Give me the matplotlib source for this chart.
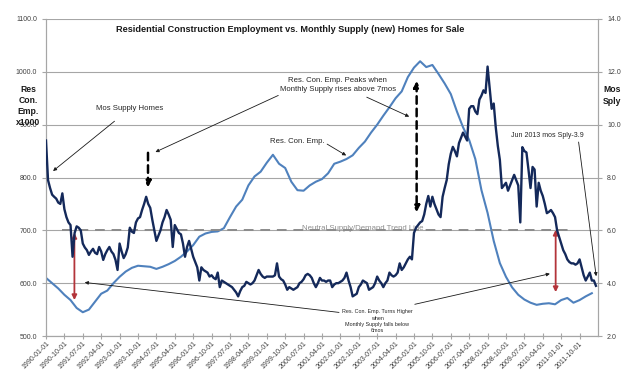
"""
Residential construction employment vs. months of supply (new homes)
"""

import numpy as np
import pandas as pd
import matplotlib
matplotlib.use("Agg")
import matplotlib.pyplot as plt

plt.rcParams["font.family"] = ["Liberation Sans", "DejaVu Sans"]

# monthly months-of-supply, 1990-01 .. 2012-06 (right axis)
supply = [
    9.4, 7.9, 7.6, 7.35, 7.27, 7.2, 7.05, 7.0, 7.4, 6.8, 6.5, 6.3,          # 1990
    6.2, 5.0, 5.9, 6.15, 6.1, 6.0, 5.5, 5.35, 5.25, 5.07, 5.2, 5.3,         # 1991
    5.15, 5.1, 5.37, 5.2, 4.88, 5.1, 5.25, 5.37, 5.2, 5.1, 4.88, 4.5,       # 1992
    5.5, 5.2, 4.95, 5.1, 5.35, 6.1, 5.95, 5.9, 6.3, 6.45, 6.5, 6.77,        # 1993
    7.0, 7.27, 7.0, 6.85, 6.4, 6.0, 5.6, 5.8, 6.0, 6.3, 6.5, 6.77,          # 1994
    6.6, 6.4, 5.37, 6.2, 6.05, 5.9, 5.85, 5.5, 5.0, 5.37, 5.6, 5.3,         # 1995
    5.0, 4.8, 4.6, 4.1, 4.6, 4.5, 4.45, 4.4, 4.25, 4.3, 4.2, 4.15,          # 1996
    4.4, 3.85, 4.1, 4.05, 4.0, 3.95, 3.9, 3.85, 3.75, 3.65, 3.5, 3.7,       # 1997
    3.85, 3.9, 4.05, 4.0, 3.95, 4.0, 4.1, 4.3, 4.5, 4.35, 4.25, 4.2,        # 1998
    4.25, 4.25, 4.25, 4.25, 4.3, 4.75, 4.25, 4.15, 4.1, 3.95, 3.75, 3.85,   # 1999
    3.8, 3.75, 3.8, 3.85, 4.0, 4.05, 4.15, 4.3, 4.35, 4.3, 4.2, 4.0,        # 2000
    3.85, 4.0, 4.2, 4.1, 4.1, 4.05, 4.1, 4.1, 3.85, 3.95, 4.0, 4.0,         # 2001
    4.05, 4.1, 4.2, 4.4, 4.1, 3.85, 3.5, 3.55, 3.6, 3.85, 3.95, 4.1,        # 2002
    4.05, 4.0, 3.75, 3.8, 3.85, 4.0, 4.25, 4.1, 4.0, 3.85, 4.0, 4.1,        # 2003
    4.4, 4.3, 4.25, 4.3, 4.4, 4.75, 4.5, 4.6, 4.75, 4.9, 5.0, 4.9,          # 2004
    5.9, 6.1, 6.2, 6.3, 6.35, 6.6, 7.0, 7.3, 6.9, 7.27, 7.0, 6.8,           # 2005
    6.6, 6.5, 7.27, 7.6, 7.9, 8.5, 8.9, 9.16, 9.0, 8.8, 9.3, 9.5,           # 2006
    9.7, 9.55, 9.4, 10.6, 10.7, 10.7, 10.5, 10.4, 10.95, 11.1, 11.3, 11.2,  # 2007
    12.2, 11.4, 10.6, 10.8, 9.9, 9.2, 8.67, 7.6, 7.7, 7.8, 7.5, 7.7,        # 2008
    7.9, 8.1, 7.9, 7.7, 6.3, 9.15, 9.0, 8.95, 8.3, 7.6, 8.4, 8.3,           # 2009
    6.9, 7.8, 7.5, 7.3, 7.0, 6.65, 6.7, 6.77, 6.65, 6.5, 6.0, 5.75,         # 2010
    5.5, 5.25, 5.1, 4.9, 4.8, 4.75, 4.75, 4.7, 4.75, 4.9, 4.6, 4.3,         # 2011
    4.1, 4.25, 4.4, 4.1, 4.1, 3.9,                                          # 2012
]

# residential construction employment (x1000), read every 3rd month (left axis)
emp = [
    610, 600, 590, 578, 568, 553, 545, 550, 565, 580, 586, 600,
    612, 622, 629, 633, 632, 631, 627, 631, 636, 642, 650, 660,
    672, 688, 694, 697, 698, 704, 725, 745, 758, 785, 802, 811,
    828, 843, 826, 818, 792, 776, 775, 785, 792, 797, 808, 826,
    830, 835, 842, 856, 868, 885, 900, 917, 933, 950, 963, 990,
    1008, 1020, 1009, 1013, 996, 978, 958, 925, 895, 871, 835, 776,
    733, 680, 638, 612, 592, 578, 569, 563, 559, 561, 562, 560,
    568, 572, 563, 568, 575, 581,
]

months = pd.date_range("1990-01-01", periods=len(supply), freq="MS")
tick_step = 9
neutral = 6.0

x_sup = np.arange(len(supply))
x_emp = np.arange(len(emp)) * 3

fig = plt.figure(figsize=(6.24, 3.74), dpi=100)
ax = fig.add_axes([0.0737, 0.1016, 0.8846, 0.8476])
ax2 = ax.twinx()

grid_c = "#A6A6A6"
txt_c = "#404040"

ax.plot(x_emp, emp, color="#4F81BD", lw=1.5, zorder=3)
ax2.plot(x_sup, supply, color="#14295A", lw=1.7, zorder=3)
ax2.hlines(neutral, 8, 256, colors="#8C8C8C", linestyles=(0, (5, 3.5)), lw=1.4, zorder=2)

ax.set_xlim(0, len(supply))
ax.set_ylim(500, 1100)
ax.set_yticks(np.arange(500, 1101, 100))
ax.set_yticklabels([f"{v:.1f}" for v in np.arange(500, 1101, 100)])
ax2.set_ylim(2, 14)
ax2.set_yticks(np.arange(2, 15, 2))
ax2.set_yticklabels([f"{v:.1f}" for v in np.arange(2, 15, 2)])

ticks = x_sup[::tick_step]
ax.set_xticks(ticks)
ax.set_xticklabels([months[i].strftime("%Y-%m-%d") for i in ticks],
                   rotation=45, ha="right", rotation_mode="anchor", fontsize=4.6, color=txt_c)

ax.grid(axis="y", color=grid_c, lw=0.8)
ax.set_axisbelow(True)
for a in (ax, ax2):
    a.spines["top"].set_visible(False)
    for s in ("left", "right", "bottom"):
        a.spines[s].set_color(grid_c)
        a.spines[s].set_linewidth(0.8)
    a.tick_params(colors=grid_c, labelcolor=txt_c, labelsize=5, length=3, width=0.8)
ax.tick_params(axis="x", direction="inout", length=4, pad=1)

ax.text(0.442, 0.968,
        "Residential Construction Employment vs. Monthly Supply (new) Homes for Sale",
        transform=ax.transAxes, fontsize=6.6, fontweight="bold", color="#1A1A1A",
        ha="center", va="center")

fig.text(0.045, 0.717, "Res\nCon.\nEmp.\nx1000", ha="center", va="center",
         fontsize=6.2, fontweight="bold", linespacing=1.3, color="#1A1A1A")
fig.text(0.981, 0.745, "Mos\nSply", ha="center", va="center",
         fontsize=6.2, fontweight="bold", linespacing=1.4, color="#1A1A1A")

thin = dict(arrowstyle="-|>", color="#1A1A1A", lw=0.6, mutation_scale=5)
ax.annotate("Mos Supply Homes", xy=(2.4, 809), xytext=(41, 930),
            fontsize=5.6, ha="center", va="center", color="#262626",
            arrowprops=dict(thin, shrinkA=7))
ax.annotate("Res. Con. Emp. Peaks when\nMonthly Supply rises above 7mos",
            xy=(52.3, 846), xytext=(142.7, 975), fontsize=5.6, ha="center", va="center",
            color="#262626", linespacing=1.25,
            arrowprops=dict(thin, shrinkA=0, relpos=(0.04, 0.0)))
ax.annotate("", xy=(178.9, 913), xytext=(156.9, 952), arrowprops=dict(thin, shrinkA=0))
ax.annotate("Res. Con. Emp.", xy=(148, 839), xytext=(109.5, 869), fontsize=5.6,
            ha="left", va="center", color="#262626",
            arrowprops=dict(thin, shrinkA=0, relpos=(1.0, 0.3)))
ax.annotate("Jun 2013 mos Sply-3.9", xy=(269.3, 608), xytext=(245.4, 879), fontsize=5,
            ha="center", va="center", color="#262626",
            arrowprops=dict(thin, shrinkA=0, relpos=(0.92, 0.0)))

ax.annotate("Res. Con. Emp. Turns Higher\nwhen\nMonthly Supply falls below\n6mos",
            xy=(17.6, 602), xytext=(162, 528), fontsize=3.9, ha="center", va="center",
            color="#262626", linespacing=1.35,
            arrowprops=dict(thin, shrinkA=0, relpos=(0.0, 0.85)))
ax.annotate("", xy=(247.8, 619), xytext=(180.4, 560), arrowprops=dict(thin, shrinkA=0))

dash = dict(arrowstyle="-|>", color="black", lw=1.8, ls=(0, (3, 2)), mutation_scale=9)
ax.annotate("", xy=(49.9, 776), xytext=(49.9, 852), arrowprops=dash)
ax.annotate("", xy=(181.3, 729), xytext=(181.3, 988),
            arrowprops=dict(dash, arrowstyle="<|-|>"))

red = dict(arrowstyle="<|-|>", color="#B3343A", lw=1.3, mutation_scale=7, shrinkA=0, shrinkB=0)
ax.annotate("", xy=(13.9, 568), xytext=(13.9, 695), arrowprops=red)
ax.annotate("", xy=(249.3, 583), xytext=(249.3, 701), arrowprops=red)

ax.text(125, 704, "Neutral Supply/Demand Trend Line", fontsize=5.6, color="#8C8C8C",
        ha="left", va="center")

plt.savefig("out.png", dpi=100)
plt.close()
